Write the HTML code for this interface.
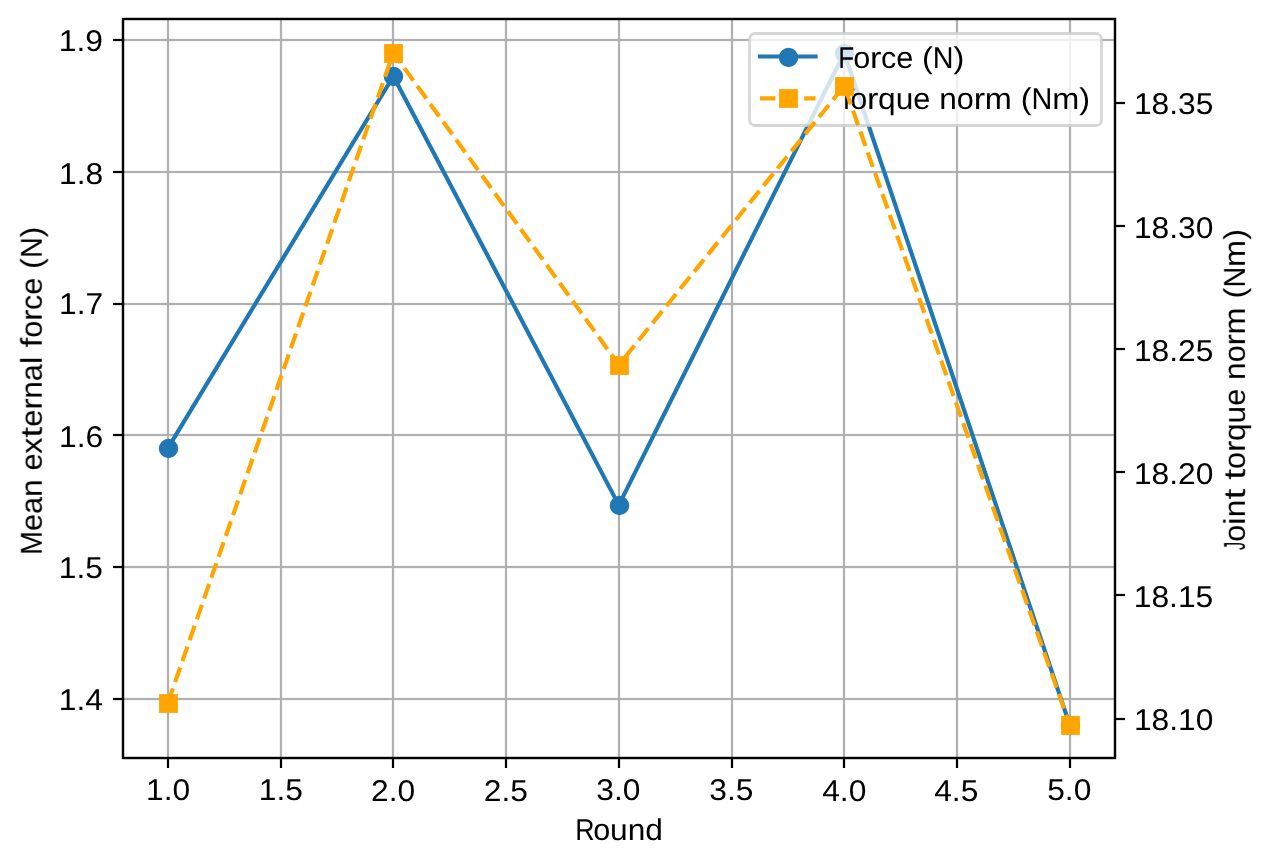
<!DOCTYPE html>
<html><head><meta charset="utf-8"><title>chart</title>
<style>html,body{margin:0;padding:0;background:#fff;width:1272px;height:865px;overflow:hidden}svg{display:block;font-family:"Liberation Sans",sans-serif}</style>
</head><body>
<svg width="1272" height="865" viewBox="0 0 1272 865">
<rect x="0" y="0" width="1272" height="865" fill="#ffffff"/>
<g fill="#b0b0b0"><rect x="166.89" y="19" width="2.22" height="739"/><rect x="279.89" y="19" width="2.22" height="739"/><rect x="391.89" y="19" width="2.22" height="739"/><rect x="504.89" y="19" width="2.22" height="739"/><rect x="617.89" y="19" width="2.22" height="739"/><rect x="730.89" y="19" width="2.22" height="739"/><rect x="842.89" y="19" width="2.22" height="739"/><rect x="955.89" y="19" width="2.22" height="739"/><rect x="1068.89" y="19" width="2.22" height="739"/><rect x="123" y="697.89" width="992" height="2.22"/><rect x="123" y="565.89" width="992" height="2.22"/><rect x="123" y="433.89" width="992" height="2.22"/><rect x="123" y="302.89" width="992" height="2.22"/><rect x="123" y="170.89" width="992" height="2.22"/><rect x="123" y="38.89" width="992" height="2.22"/></g>
<g fill="#000"><rect x="166.89" y="758" width="2.22" height="10"/><rect x="279.89" y="758" width="2.22" height="10"/><rect x="391.89" y="758" width="2.22" height="10"/><rect x="504.89" y="758" width="2.22" height="10"/><rect x="617.89" y="758" width="2.22" height="10"/><rect x="730.89" y="758" width="2.22" height="10"/><rect x="842.89" y="758" width="2.22" height="10"/><rect x="955.89" y="758" width="2.22" height="10"/><rect x="1068.89" y="758" width="2.22" height="10"/><rect x="113" y="697.89" width="10" height="2.22"/><rect x="113" y="565.89" width="10" height="2.22"/><rect x="113" y="433.89" width="10" height="2.22"/><rect x="113" y="302.89" width="10" height="2.22"/><rect x="113" y="170.89" width="10" height="2.22"/><rect x="113" y="38.89" width="10" height="2.22"/></g>
<polyline points="167.9,448.06 393.35,76.29 618.81,505.1 844.26,52.84 1069.71,724.84" stroke="#1f77b4" stroke-width="4.17" fill="none" stroke-linejoin="round" stroke-linecap="square"/>
<circle cx="168.5" cy="448.5" r="8.33" fill="#1f77b4" stroke="#1f77b4" stroke-width="2.78"/>
<circle cx="393.5" cy="76.5" r="8.33" fill="#1f77b4" stroke="#1f77b4" stroke-width="2.78"/>
<circle cx="619.5" cy="505.5" r="8.33" fill="#1f77b4" stroke="#1f77b4" stroke-width="2.78"/>
<circle cx="844.5" cy="53.5" r="8.33" fill="#1f77b4" stroke="#1f77b4" stroke-width="2.78"/>
<circle cx="1070.5" cy="725.5" r="8.33" fill="#1f77b4" stroke="#1f77b4" stroke-width="2.78"/>
<rect x="123" y="19" width="992" height="739" stroke="#000" stroke-width="2.22" fill="none" stroke-linejoin="miter"/>
<path d="M755.06 33.5H1095.94A5.56 5.56 0 0 1 1101.5 39.06V119.94A5.56 5.56 0 0 1 1095.94 125.5H755.06A5.56 5.56 0 0 1 749.5 119.94V39.06A5.56 5.56 0 0 1 755.06 33.5Z" fill="#ffffff" fill-opacity="0.8"/>
<path d="M755.06 32.11H1095.94A6.94 6.94 0 0 1 1102.89 39.06V119.94A6.94 6.94 0 0 1 1095.94 126.89H755.06A6.94 6.94 0 0 1 748.11 119.94V39.06A6.94 6.94 0 0 1 755.06 32.11ZM755.06 34.89H1095.94A4.17 4.17 0 0 1 1100.11 39.06V119.94A4.17 4.17 0 0 1 1095.94 124.11H755.06A4.17 4.17 0 0 1 750.89 119.94V39.06A4.17 4.17 0 0 1 755.06 34.89Z" fill="#cccccc" fill-opacity="0.8" fill-rule="evenodd"/>
<line x1="760.03" y1="56.52" x2="815.58" y2="56.52" stroke="#1f77b4" stroke-width="4.17" stroke-linecap="square"/>
<circle cx="788.5" cy="57.5" r="8.33" fill="#1f77b4" stroke="#1f77b4" stroke-width="2.78"/>
<line x1="760.03" y1="98.41" x2="815.58" y2="98.41" stroke="#ffa500" stroke-width="4.17" stroke-dasharray="15.42 6.67"/>
<rect x="780.5" y="90.5" width="16" height="16" fill="#ffa500" stroke="#ffa500" stroke-width="2.78"/>
<g font-family="Liberation Sans, sans-serif" font-size="30" fill="#000" style="will-change:transform" text-rendering="geometricPrecision">
<text transform="translate(838.21 67.56)" y="0" style="white-space:pre"><tspan x="0" textLength="15.98" lengthAdjust="spacingAndGlyphs">F</tspan><tspan x="15" textLength="16.99" lengthAdjust="spacingAndGlyphs">o</tspan><tspan x="31.88" textLength="11.42" lengthAdjust="spacingAndGlyphs">r</tspan><tspan x="42.75" textLength="15.27" lengthAdjust="spacingAndGlyphs">c</tspan><tspan x="58" textLength="17.09" lengthAdjust="spacingAndGlyphs">e</tspan><tspan x="75" textLength="8.83" lengthAdjust="spacingAndGlyphs"> </tspan><tspan x="83.88" textLength="10.84" lengthAdjust="spacingAndGlyphs">(</tspan><tspan x="94.62" textLength="20.78" lengthAdjust="spacingAndGlyphs">N</tspan><tspan x="115.38" textLength="10.84" lengthAdjust="spacingAndGlyphs">)</tspan></text>
<text transform="translate(838.12 108.61)" y="0" style="white-space:pre"><tspan x="0" textLength="16.97" lengthAdjust="spacingAndGlyphs">T</tspan><tspan x="12.12" textLength="16.99" lengthAdjust="spacingAndGlyphs">o</tspan><tspan x="29" textLength="11.42" lengthAdjust="spacingAndGlyphs">r</tspan><tspan x="40" textLength="17.63" lengthAdjust="spacingAndGlyphs">q</tspan><tspan x="57.62" textLength="17.61" lengthAdjust="spacingAndGlyphs">u</tspan><tspan x="75.25" textLength="17.09" lengthAdjust="spacingAndGlyphs">e</tspan><tspan x="92.25" textLength="8.83" lengthAdjust="spacingAndGlyphs"> </tspan><tspan x="101.12" textLength="17.61" lengthAdjust="spacingAndGlyphs">n</tspan><tspan x="118.75" textLength="16.99" lengthAdjust="spacingAndGlyphs">o</tspan><tspan x="135.62" textLength="11.42" lengthAdjust="spacingAndGlyphs">r</tspan><tspan x="146.62" textLength="27.06" lengthAdjust="spacingAndGlyphs">m</tspan><tspan x="173.75" textLength="8.83" lengthAdjust="spacingAndGlyphs"> </tspan><tspan x="182.62" textLength="10.84" lengthAdjust="spacingAndGlyphs">(</tspan><tspan x="193.38" textLength="20.78" lengthAdjust="spacingAndGlyphs">N</tspan><tspan x="214.12" textLength="27.06" lengthAdjust="spacingAndGlyphs">m</tspan><tspan x="241.25" textLength="10.84" lengthAdjust="spacingAndGlyphs">)</tspan></text>
</g>
<polyline points="167.9,702.91 393.35,52.84 618.81,364.82 844.26,85.87 1069.71,724.84" stroke="#ffa500" stroke-width="4.17" fill="none" stroke-dasharray="15.42 6.67" stroke-linejoin="round"/>
<rect x="160.5" y="695.5" width="16" height="16" fill="#ffa500" stroke="#ffa500" stroke-width="2.78"/>
<rect x="385.5" y="45.5" width="16" height="16" fill="#ffa500" stroke="#ffa500" stroke-width="2.78"/>
<rect x="611.5" y="357.5" width="16" height="16" fill="#ffa500" stroke="#ffa500" stroke-width="2.78"/>
<rect x="836.5" y="78.5" width="16" height="16" fill="#ffa500" stroke="#ffa500" stroke-width="2.78"/>
<rect x="1062.5" y="717.5" width="16" height="16" fill="#ffa500" stroke="#ffa500" stroke-width="2.78"/>
<rect x="123" y="19" width="992" height="739" stroke="#000" stroke-width="2.22" fill="none" stroke-linejoin="miter"/>
<g fill="#000"><rect x="1115" y="717.89" width="10" height="2.22"/><rect x="1115" y="593.89" width="10" height="2.22"/><rect x="1115" y="470.89" width="10" height="2.22"/><rect x="1115" y="347.89" width="10" height="2.22"/><rect x="1115" y="224.89" width="10" height="2.22"/><rect x="1115" y="101.89" width="10" height="2.22"/></g>
<g font-family="Liberation Sans, sans-serif" font-size="30" fill="#000" style="will-change:transform" text-rendering="geometricPrecision">
<text transform="translate(146.03 799.5)" y="0" style="white-space:pre"><tspan x="0" textLength="17.67" lengthAdjust="spacingAndGlyphs">1</tspan><tspan x="17.62" textLength="8.83" lengthAdjust="spacingAndGlyphs">.</tspan><tspan x="26.5" textLength="17.67" lengthAdjust="spacingAndGlyphs">0</tspan></text>
<text transform="translate(258.79 799.58)" y="0" style="white-space:pre"><tspan x="0" textLength="17.67" lengthAdjust="spacingAndGlyphs">1</tspan><tspan x="17.62" textLength="8.83" lengthAdjust="spacingAndGlyphs">.</tspan><tspan x="26.5" textLength="17.67" lengthAdjust="spacingAndGlyphs">5</tspan></text>
<text transform="translate(371.07 800.6)" y="0" style="white-space:pre"><tspan x="0" textLength="17.67" lengthAdjust="spacingAndGlyphs">2</tspan><tspan x="17.62" textLength="8.83" lengthAdjust="spacingAndGlyphs">.</tspan><tspan x="26.5" textLength="17.67" lengthAdjust="spacingAndGlyphs">0</tspan></text>
<text transform="translate(483.83 800.51)" y="0" style="white-space:pre"><tspan x="0" textLength="17.67" lengthAdjust="spacingAndGlyphs">2</tspan><tspan x="17.62" textLength="8.83" lengthAdjust="spacingAndGlyphs">.</tspan><tspan x="26.5" textLength="17.67" lengthAdjust="spacingAndGlyphs">5</tspan></text>
<text transform="translate(596.2 799.56)" y="0" style="white-space:pre"><tspan x="0" textLength="17.67" lengthAdjust="spacingAndGlyphs">3</tspan><tspan x="17.75" textLength="8.83" lengthAdjust="spacingAndGlyphs">.</tspan><tspan x="26.62" textLength="17.67" lengthAdjust="spacingAndGlyphs">0</tspan></text>
<text transform="translate(709.25 799.62)" y="0" style="white-space:pre"><tspan x="0" textLength="17.67" lengthAdjust="spacingAndGlyphs">3</tspan><tspan x="17.75" textLength="8.83" lengthAdjust="spacingAndGlyphs">.</tspan><tspan x="26.62" textLength="17.67" lengthAdjust="spacingAndGlyphs">5</tspan></text>
<text transform="translate(822.14 800.59)" y="0" style="white-space:pre"><tspan x="0" textLength="17.67" lengthAdjust="spacingAndGlyphs">4</tspan><tspan x="17.62" textLength="8.83" lengthAdjust="spacingAndGlyphs">.</tspan><tspan x="26.5" textLength="17.67" lengthAdjust="spacingAndGlyphs">0</tspan></text>
<text transform="translate(934.16 800.56)" y="0" style="white-space:pre"><tspan x="0" textLength="17.67" lengthAdjust="spacingAndGlyphs">4</tspan><tspan x="17.62" textLength="8.83" lengthAdjust="spacingAndGlyphs">.</tspan><tspan x="26.5" textLength="17.67" lengthAdjust="spacingAndGlyphs">5</tspan></text>
<text transform="translate(1047.17 799.53)" y="0" style="white-space:pre"><tspan x="0" textLength="17.67" lengthAdjust="spacingAndGlyphs">5</tspan><tspan x="17.62" textLength="8.83" lengthAdjust="spacingAndGlyphs">.</tspan><tspan x="26.5" textLength="17.67" lengthAdjust="spacingAndGlyphs">0</tspan></text>
<text transform="translate(58.83 709.61)" y="0" style="white-space:pre"><tspan x="0" textLength="17.67" lengthAdjust="spacingAndGlyphs">1</tspan><tspan x="17.62" textLength="8.83" lengthAdjust="spacingAndGlyphs">.</tspan><tspan x="26.5" textLength="17.67" lengthAdjust="spacingAndGlyphs">4</tspan></text>
<text transform="translate(58.79 577.57)" y="0" style="white-space:pre"><tspan x="0" textLength="17.67" lengthAdjust="spacingAndGlyphs">1</tspan><tspan x="17.62" textLength="8.83" lengthAdjust="spacingAndGlyphs">.</tspan><tspan x="26.5" textLength="17.67" lengthAdjust="spacingAndGlyphs">5</tspan></text>
<text transform="translate(59.05 446.5)" y="0" style="white-space:pre"><tspan x="0" textLength="17.67" lengthAdjust="spacingAndGlyphs">1</tspan><tspan x="17.62" textLength="8.83" lengthAdjust="spacingAndGlyphs">.</tspan><tspan x="26.5" textLength="17.67" lengthAdjust="spacingAndGlyphs">6</tspan></text>
<text transform="translate(59.04 313.59)" y="0" style="white-space:pre"><tspan x="0" textLength="17.67" lengthAdjust="spacingAndGlyphs">1</tspan><tspan x="17.62" textLength="8.83" lengthAdjust="spacingAndGlyphs">.</tspan><tspan x="26.5" textLength="17.67" lengthAdjust="spacingAndGlyphs">7</tspan></text>
<text transform="translate(59.08 183.59)" y="0" style="white-space:pre"><tspan x="0" textLength="17.67" lengthAdjust="spacingAndGlyphs">1</tspan><tspan x="17.62" textLength="8.83" lengthAdjust="spacingAndGlyphs">.</tspan><tspan x="26.5" textLength="17.67" lengthAdjust="spacingAndGlyphs">8</tspan></text>
<text transform="translate(58.81 50.52)" y="0" style="white-space:pre"><tspan x="0" textLength="17.67" lengthAdjust="spacingAndGlyphs">1</tspan><tspan x="17.62" textLength="8.83" lengthAdjust="spacingAndGlyphs">.</tspan><tspan x="26.5" textLength="17.67" lengthAdjust="spacingAndGlyphs">9</tspan></text>
<text transform="translate(1133.96 729.53)" y="0" style="white-space:pre"><tspan x="0" textLength="17.67" lengthAdjust="spacingAndGlyphs">1</tspan><tspan x="17.62" textLength="17.67" lengthAdjust="spacingAndGlyphs">8</tspan><tspan x="35.25" textLength="8.83" lengthAdjust="spacingAndGlyphs">.</tspan><tspan x="44.12" textLength="17.67" lengthAdjust="spacingAndGlyphs">1</tspan><tspan x="61.75" textLength="17.67" lengthAdjust="spacingAndGlyphs">0</tspan></text>
<text transform="translate(1133.77 606.54)" y="0" style="white-space:pre"><tspan x="0" textLength="17.67" lengthAdjust="spacingAndGlyphs">1</tspan><tspan x="17.62" textLength="17.67" lengthAdjust="spacingAndGlyphs">8</tspan><tspan x="35.25" textLength="8.83" lengthAdjust="spacingAndGlyphs">.</tspan><tspan x="44.12" textLength="17.67" lengthAdjust="spacingAndGlyphs">1</tspan><tspan x="61.75" textLength="17.67" lengthAdjust="spacingAndGlyphs">5</tspan></text>
<text transform="translate(1133.91 483.61)" y="0" style="white-space:pre"><tspan x="0" textLength="17.67" lengthAdjust="spacingAndGlyphs">1</tspan><tspan x="17.62" textLength="17.67" lengthAdjust="spacingAndGlyphs">8</tspan><tspan x="35.25" textLength="8.83" lengthAdjust="spacingAndGlyphs">.</tspan><tspan x="44.12" textLength="17.67" lengthAdjust="spacingAndGlyphs">2</tspan><tspan x="61.75" textLength="17.67" lengthAdjust="spacingAndGlyphs">0</tspan></text>
<text transform="translate(1133.89 360.59)" y="0" style="white-space:pre"><tspan x="0" textLength="17.67" lengthAdjust="spacingAndGlyphs">1</tspan><tspan x="17.62" textLength="17.67" lengthAdjust="spacingAndGlyphs">8</tspan><tspan x="35.25" textLength="8.83" lengthAdjust="spacingAndGlyphs">.</tspan><tspan x="44.12" textLength="17.67" lengthAdjust="spacingAndGlyphs">2</tspan><tspan x="61.75" textLength="17.67" lengthAdjust="spacingAndGlyphs">5</tspan></text>
<text transform="translate(1133.94 237.54)" y="0" style="white-space:pre"><tspan x="0" textLength="17.67" lengthAdjust="spacingAndGlyphs">1</tspan><tspan x="17.62" textLength="17.67" lengthAdjust="spacingAndGlyphs">8</tspan><tspan x="35.25" textLength="8.83" lengthAdjust="spacingAndGlyphs">.</tspan><tspan x="44.12" textLength="17.67" lengthAdjust="spacingAndGlyphs">3</tspan><tspan x="61.88" textLength="17.67" lengthAdjust="spacingAndGlyphs">0</tspan></text>
<text transform="translate(1133.96 113.5)" y="0" style="white-space:pre"><tspan x="0" textLength="17.67" lengthAdjust="spacingAndGlyphs">1</tspan><tspan x="17.62" textLength="17.67" lengthAdjust="spacingAndGlyphs">8</tspan><tspan x="35.25" textLength="8.83" lengthAdjust="spacingAndGlyphs">.</tspan><tspan x="44.12" textLength="17.67" lengthAdjust="spacingAndGlyphs">3</tspan><tspan x="61.88" textLength="17.67" lengthAdjust="spacingAndGlyphs">5</tspan></text>
<text transform="translate(575.19 839.5)" y="0" style="white-space:pre"><tspan x="0" textLength="19.3" lengthAdjust="spacingAndGlyphs">R</tspan><tspan x="18" textLength="16.99" lengthAdjust="spacingAndGlyphs">o</tspan><tspan x="34.88" textLength="17.61" lengthAdjust="spacingAndGlyphs">u</tspan><tspan x="52.5" textLength="17.61" lengthAdjust="spacingAndGlyphs">n</tspan><tspan x="70.12" textLength="17.63" lengthAdjust="spacingAndGlyphs">d</tspan></text>
<text transform="translate(41.72 554.95) rotate(-90)" y="0" style="white-space:pre"><tspan x="0" textLength="23.97" lengthAdjust="spacingAndGlyphs">M</tspan><tspan x="24" textLength="17.09" lengthAdjust="spacingAndGlyphs">e</tspan><tspan x="41" textLength="17.02" lengthAdjust="spacingAndGlyphs">a</tspan><tspan x="58" textLength="17.61" lengthAdjust="spacingAndGlyphs">n</tspan><tspan x="75.62" textLength="8.83" lengthAdjust="spacingAndGlyphs"> </tspan><tspan x="84.5" textLength="17.09" lengthAdjust="spacingAndGlyphs">e</tspan><tspan x="101" textLength="16.44" lengthAdjust="spacingAndGlyphs">x</tspan><tspan x="117.38" textLength="10.89" lengthAdjust="spacingAndGlyphs">t</tspan><tspan x="128.25" textLength="17.09" lengthAdjust="spacingAndGlyphs">e</tspan><tspan x="145.25" textLength="11.42" lengthAdjust="spacingAndGlyphs">r</tspan><tspan x="156.25" textLength="17.61" lengthAdjust="spacingAndGlyphs">n</tspan><tspan x="173.88" textLength="17.02" lengthAdjust="spacingAndGlyphs">a</tspan><tspan x="190.88" textLength="7.72" lengthAdjust="spacingAndGlyphs">l</tspan><tspan x="198.62" textLength="8.83" lengthAdjust="spacingAndGlyphs"> </tspan><tspan x="207.5" textLength="9.78" lengthAdjust="spacingAndGlyphs">f</tspan><tspan x="217.25" textLength="16.99" lengthAdjust="spacingAndGlyphs">o</tspan><tspan x="234.12" textLength="11.42" lengthAdjust="spacingAndGlyphs">r</tspan><tspan x="245" textLength="15.27" lengthAdjust="spacingAndGlyphs">c</tspan><tspan x="260.25" textLength="17.09" lengthAdjust="spacingAndGlyphs">e</tspan><tspan x="277.25" textLength="8.83" lengthAdjust="spacingAndGlyphs"> </tspan><tspan x="286.12" textLength="10.84" lengthAdjust="spacingAndGlyphs">(</tspan><tspan x="296.88" textLength="20.78" lengthAdjust="spacingAndGlyphs">N</tspan><tspan x="317.62" textLength="10.84" lengthAdjust="spacingAndGlyphs">)</tspan></text>
<text transform="translate(1244.85 550.03) rotate(-90)" y="0" style="white-space:pre"><tspan x="0" textLength="8.19" lengthAdjust="spacingAndGlyphs">J</tspan><tspan x="8.25" textLength="16.99" lengthAdjust="spacingAndGlyphs">o</tspan><tspan x="25.12" textLength="7.72" lengthAdjust="spacingAndGlyphs">i</tspan><tspan x="32.88" textLength="17.61" lengthAdjust="spacingAndGlyphs">n</tspan><tspan x="50.5" textLength="10.89" lengthAdjust="spacingAndGlyphs">t</tspan><tspan x="61.38" textLength="8.83" lengthAdjust="spacingAndGlyphs"> </tspan><tspan x="70.25" textLength="10.89" lengthAdjust="spacingAndGlyphs">t</tspan><tspan x="81.12" textLength="16.99" lengthAdjust="spacingAndGlyphs">o</tspan><tspan x="98" textLength="11.42" lengthAdjust="spacingAndGlyphs">r</tspan><tspan x="109" textLength="17.63" lengthAdjust="spacingAndGlyphs">q</tspan><tspan x="126.62" textLength="17.61" lengthAdjust="spacingAndGlyphs">u</tspan><tspan x="144.25" textLength="17.09" lengthAdjust="spacingAndGlyphs">e</tspan><tspan x="161.25" textLength="8.83" lengthAdjust="spacingAndGlyphs"> </tspan><tspan x="170.12" textLength="17.61" lengthAdjust="spacingAndGlyphs">n</tspan><tspan x="187.75" textLength="16.99" lengthAdjust="spacingAndGlyphs">o</tspan><tspan x="204.62" textLength="11.42" lengthAdjust="spacingAndGlyphs">r</tspan><tspan x="215.62" textLength="27.06" lengthAdjust="spacingAndGlyphs">m</tspan><tspan x="242.75" textLength="8.83" lengthAdjust="spacingAndGlyphs"> </tspan><tspan x="251.62" textLength="10.84" lengthAdjust="spacingAndGlyphs">(</tspan><tspan x="262.38" textLength="20.78" lengthAdjust="spacingAndGlyphs">N</tspan><tspan x="283.12" textLength="27.06" lengthAdjust="spacingAndGlyphs">m</tspan><tspan x="310.25" textLength="10.84" lengthAdjust="spacingAndGlyphs">)</tspan></text>
</g>
</svg>
</body></html>
